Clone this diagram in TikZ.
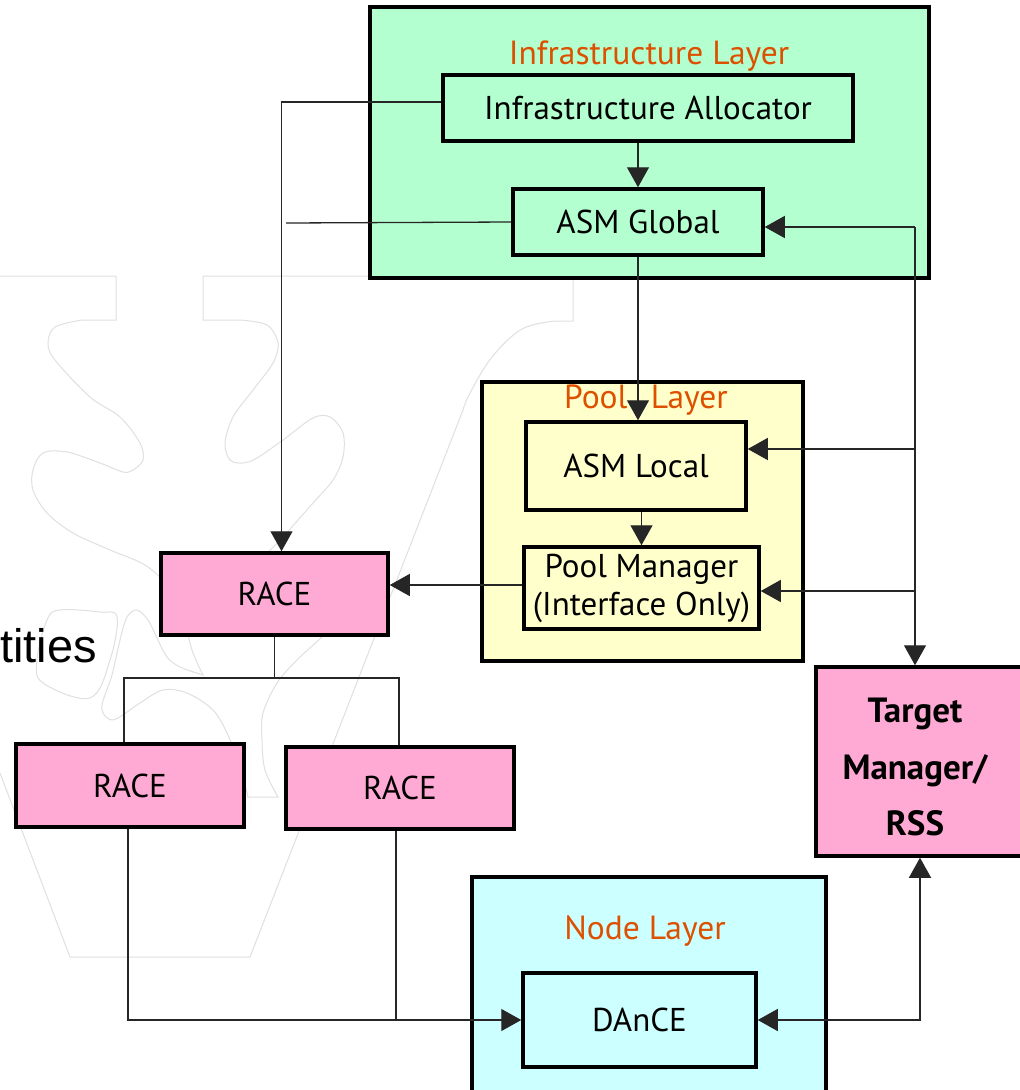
\documentclass[tikz,border=0pt]{standalone}
\usepackage{fontspec}
\setmainfont{PT Sans}
\newfontfamily\slidefont{Liberation Sans}
\usetikzlibrary{arrows.meta,calc}

\definecolor{infrafill}{RGB}{179,255,208}
\definecolor{poolfill}{RGB}{255,255,204}
\definecolor{nodefill}{RGB}{204,255,255}
\definecolor{racefill}{RGB}{255,170,212}
\definecolor{titleorange}{RGB}{221,80,0}
\definecolor{markgray}{RGB}{224,224,224}

\tikzset{
  layer/.style={draw=black, line width=4pt, rectangle, inner sep=0pt},
  comp/.style={draw=black, line width=3.5pt, rectangle, inner sep=0pt,
               font=\fontsize{33}{38}\selectfont, align=center},
  layertitle/.style={text=titleorange, font=\fontsize{33.5}{38}\selectfont, inner sep=0pt},
  conn/.style={line width=1.3pt, draw=black!85},
  tip/.style={-{Triangle[length=20pt,width=22pt]}},
  bitip/.style={{Triangle[length=20pt,width=22pt]}-{Triangle[length=20pt,width=22pt]}},
  wm/.style={draw=markgray, line width=1pt},
}

\begin{document}
\begin{tikzpicture}[x=1pt, y=-1pt]
% page
\path[use as bounding box, fill=white] (0,0) rectangle (1020,1090);

% faint logo outline in the background
\draw[wm] (0,276) -- (116,276) -- (116,320) -- (82,320)
  -- plot[smooth, tension=0.55] coordinates {(82,320) (55,327) (48,343) (55,360) (90,397) (120,417)
     (140,443) (143,460) (133,470) (123,472) (100,463) (67,452) (43,453) (33,470) (33,490)
     (47,513) (73,533) (110,550) (145,565) (175,590) (200,605)};
\draw[wm] plot[smooth, tension=0.55] coordinates {(200,600) (188,625) (192,650) (203,675)}
  -- plot[smooth, tension=0.55] coordinates {(203,675) (180,667) (167,657) (157,638) (148,620)
     (137,610) (127,617) (120,640) (112,675) (102,705) (106,717) (116,719) (140,703) (163,690)
     (187,693) (213,710) (228,735) (240,767) (248,797)}
  -- (278,797)
  -- plot[smooth, tension=0.55] coordinates {(278,797) (265,770) (262,740) (263,713) (277,683)
     (297,660) (322,637) (345,615)};
\draw[wm] plot[smooth, tension=0.55] coordinates {(250,590) (262,560) (283,537) (313,503) (333,480)
     (343,457) (343,433) (330,417) (313,418) (283,440) (257,458) (243,463) (230,460) (225,443)
     (233,417) (253,390) (273,363) (278,343) (267,325) (240,320)}
  -- (203,320) -- (203,276) -- (372,276);
\draw[wm] (573,280) -- (573,321) -- (555,321)
  -- plot[smooth, tension=0.6] coordinates {(555,321) (522,329) (492,357) (470,393) (463,410)}
  -- (250,957) -- (70,957) -- (0,773);
\draw[wm] plot[smooth cycle, tension=0.6] coordinates {(60,610) (100,612) (117,617) (110,660)
     (90,698) (43,683) (37,660) (47,620)};

% leftover slide text
\node[anchor=base east, inner sep=0pt, font=\slidefont\fontsize{47}{50}\selectfont] (slidetext) at (97,662) {tities};

% layers
\node[layer, fill=infrafill, minimum width=559, minimum height=271] (infra) at (649.5,142.5) {};
\node[layer, fill=poolfill, minimum width=321, minimum height=279] (pool) at (642.5,521.5) {};
\node[layer, fill=nodefill, minimum width=354, minimum height=225] (nodel) at (649,989.5) {};

\node[layertitle, anchor=base] (infratitle) at (649,64) {Infrastructure Layer};
\node[layertitle, anchor=base] (pooltitle) at (646,408) {Pool\hspace{0.7em}Layer};
\node[layertitle, anchor=base] (nodetitle) at (645,939) {Node Layer};

% components
\node[comp, fill=infrafill, minimum width=410, minimum height=66] (ia) at (648,108) {Infrastructure Allocator};
\node[comp, fill=infrafill, minimum width=250, minimum height=66] (asmg) at (638,222) {ASM Global};
\node[comp, fill=poolfill, minimum width=220, minimum height=88] (asml) at (636,466) {ASM Local};
\node[comp, fill=poolfill, minimum width=235, minimum height=82] (pm) at (641.5,588) {Pool Manager\\(Interface Only)};
\node[comp, fill=nodefill, minimum width=233, minimum height=94] (dance) at (639.5,1020) {DAnCE};
\node[comp, fill=racefill, minimum width=227, minimum height=82] (race1) at (274.5,594) {RACE};
\node[comp, fill=racefill, minimum width=228, minimum height=83] (race2) at (130,785.5) {RACE};
\node[comp, fill=racefill, minimum width=228, minimum height=82] (race3) at (400,788) {RACE};
\node[comp, fill=racefill, minimum width=214, minimum height=189] (tm) at (923,761.5) {};
\node[align=center, inner sep=0pt, font=\bfseries\fontsize{35}{56.5}\selectfont] (tmtext) at (915,767) {Target\\Manager/\\RSS};

% connection points
\coordinate (iaout) at ($(ia.west)+(0,-6)$);
\coordinate (racein) at ($(race1.north)+(7,0)$);
\coordinate (gstub) at (286,223);
\coordinate (busG) at (915,227);
\coordinate (busL) at (915,449);
\coordinate (busP) at (915,591);
\coordinate (pmout) at ($(pm.west)+(0,-3)$);
\coordinate (tmin) at ($(tm.south)+(-3,0)$);
\coordinate (split) at (275,678);
\coordinate (lleg) at ($(race2.north)+(-6,0)$);
\coordinate (rleg) at ($(race3.north)+(-1,0)$);
\coordinate (ldown) at ($(race2.south)+(-2,0)$);
\coordinate (rdown) at ($(race3.south)+(-4,0)$);

% connectors
\draw[conn, tip] (ia.south -| asmg.north) -- (asmg.north);
\draw[conn, tip] (iaout) -| (racein);
\draw[conn] (asmg.west) -- (gstub);
\draw[conn, tip] (asmg.south) -- (asmg.south |- asml.north);
\draw[conn, tip] (asml.south -| pm.north) -- (pm.north);
\draw[conn, tip] (pmout) -- (pmout -| race1.east);
\draw[conn, tip] (busG) -- (busG -| asmg.east);
\draw[conn, tip] (busG) -- (busG |- tm.north);
\draw[conn, tip] (busL) -- (busL -| asml.east);
\draw[conn, tip] (busP) -- (busP -| pm.east);
\draw[conn, bitip] (dance.east) -| (tmin);
\draw[conn] (race1.south) -- (race1.south |- split);
\draw[conn] (lleg) |- (split) -| (rleg);
\draw[conn, tip] (ldown) |- (dance.west);
\draw[conn] (rdown) -- (rdown |- dance.west);
\end{tikzpicture}
\end{document}
